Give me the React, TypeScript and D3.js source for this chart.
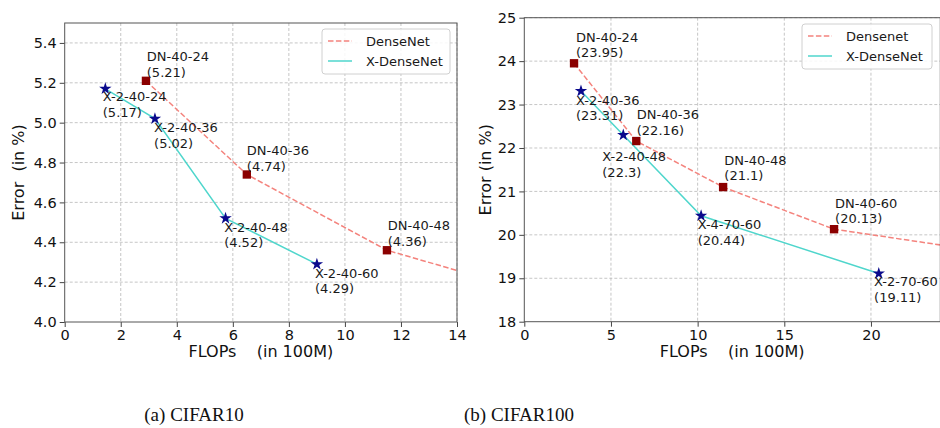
import React, { useEffect, useRef } from "react";
import * as d3 from "d3";

// ---- CIFAR10 ----
const c10DnFlops = [2.9, 6.5, 11.5, 17.9];
const c10DnErr = [5.21, 4.74, 4.36, 4.1];
const c10DnNames = ["DN-40-24", "DN-40-36", "DN-40-48"];
const c10DnLabelAt = [[2.93, 5.23], [6.5, 4.76], [11.53, 4.383]];

const c10XFlops = [1.45, 3.22, 5.74, 9.0];
const c10XErr = [5.17, 5.02, 4.52, 4.29];
const c10XNames = ["X-2-40-24", "X-2-40-36", "X-2-40-48", "X-2-40-60"];
const c10XLabelAt = [[1.36, 5.03], [3.19, 4.875], [5.69, 4.375], [8.93, 4.144]];

const c10XTicks = [0, 2, 4, 6, 8, 10, 12, 14];
const c10YTicks = [4.0, 4.2, 4.4, 4.6, 4.8, 5.0, 5.2, 5.4];

// ---- CIFAR100 ----
const c100DnFlops = [2.87, 6.46, 11.47, 17.87, 26];
const c100DnErr = [23.95, 22.16, 21.1, 20.13, 19.65];
const c100DnNames = ["DN-40-24", "DN-40-36", "DN-40-48", "DN-40-60"];
const c100DnLabelAt = [[2.98, 24.09], [6.49, 22.3], [11.54, 21.26], [17.93, 20.27]];

const c100XFlops = [3.27, 5.71, 10.2, 20.45];
const c100XErr = [23.31, 22.3, 20.44, 19.11];
const c100XNames = ["X-2-40-36", "X-2-40-48", "X-4-70-60", "X-2-70-60"];
const c100XLabelAt = [[2.98, 22.64], [4.5, 21.34], [10.0, 19.77], [20.18, 18.46]];

const c100XTicks = [0, 5, 10, 15, 20];
const c100YTicks = [18, 19, 20, 21, 22, 23, 24, 25];

const FONT = "DejaVu Sans, sans-serif";
const DN_COLOR = "#f4837d";
const X_COLOR = "#4fd6cc";

function drawPanel(svg, cfg) {
  const { left, right, top, bottom, xDomain, yDomain } = cfg;
  const x = d3.scaleLinear().domain(xDomain).range([left, right]);
  const y = d3.scaleLinear().domain(yDomain).range([bottom, top]);
  const g = svg.append("g");

  const clipId = "clip-" + cfg.id;
  g.append("clipPath").attr("id", clipId)
    .append("rect").attr("x", left).attr("y", top)
    .attr("width", right - left).attr("height", bottom - top);

  // grid
  g.append("g").selectAll("line").data(cfg.xTicks.filter((t) => t > xDomain[0])).join("line")
    .attr("x1", (d) => x(d)).attr("x2", (d) => x(d)).attr("y1", top).attr("y2", bottom)
    .attr("stroke", "#b8b8b8").attr("stroke-width", 0.8).attr("stroke-dasharray", "3,2");
  g.append("g").selectAll("line").data(cfg.yTicks.filter((t) => t > yDomain[0])).join("line")
    .attr("x1", left).attr("x2", right).attr("y1", (d) => y(d)).attr("y2", (d) => y(d))
    .attr("stroke", "#b8b8b8").attr("stroke-width", 0.8).attr("stroke-dasharray", "3,2");

  // axes
  const xAxis = g.append("g").attr("transform", `translate(0,${bottom})`)
    .call(d3.axisBottom(x).tickValues(cfg.xTicks).tickFormat(d3.format("d")).tickSize(5).tickPadding(3));
  const yAxis = g.append("g").attr("transform", `translate(${left},0)`)
    .call(d3.axisLeft(y).tickValues(cfg.yTicks).tickFormat(d3.format(cfg.yFormat)).tickSize(5).tickPadding(3));
  [xAxis, yAxis].forEach((a) => {
    a.select(".domain").remove();
    a.selectAll("line").attr("stroke", "#444");
    a.selectAll("text").attr("fill", "#111").style("font-family", FONT).style("font-size", "14.5px");
  });

  const lines = g.append("g").attr("clip-path", `url(#${clipId})`);
  const line = d3.line().x((d) => x(d[0])).y((d) => y(d[1]));
  lines.append("path").datum(d3.zip(cfg.dnFlops, cfg.dnErr)).attr("d", line)
    .attr("fill", "none").attr("stroke", DN_COLOR).attr("stroke-width", 1.5).attr("stroke-dasharray", "5.5,2.4");
  lines.append("path").datum(d3.zip(cfg.xFlops, cfg.xErr)).attr("d", line)
    .attr("fill", "none").attr("stroke", X_COLOR).attr("stroke-width", 1.5);

  // markers
  const names = cfg.dnNames;
  g.append("g").selectAll("path").data(names.map((n, i) => [cfg.dnFlops[i], cfg.dnErr[i]])).join("path")
    .attr("d", d3.symbol(d3.symbolSquare, 70)())
    .attr("transform", (d) => `translate(${x(d[0])},${y(d[1])})`)
    .attr("fill", "#8b0000");
  g.append("g").selectAll("path").data(cfg.xNames.map((n, i) => [cfg.xFlops[i], cfg.xErr[i]])).join("path")
    .attr("d", d3.symbol(d3.symbolStar, 48)())
    .attr("transform", (d) => `translate(${x(d[0])},${y(d[1])})`)
    .attr("fill", "#0a0a8c");

  // annotations
  const ann = [
    ...cfg.dnNames.map((n, i) => ({ name: n, val: cfg.dnErr[i], at: cfg.dnLabelAt[i] })),
    ...cfg.xNames.map((n, i) => ({ name: n, val: cfg.xErr[i], at: cfg.xLabelAt[i] })),
  ];
  const t = g.append("g").selectAll("text").data(ann).join("text")
    .attr("x", (d) => x(d.at[0])).attr("y", (d) => y(d.at[1]))
    .style("font-family", FONT).style("font-size", "13px").attr("fill", "#1a1a1a");
  t.append("tspan").attr("x", (d) => x(d.at[0])).attr("dy", -15.5).text((d) => d.name);
  t.append("tspan").attr("x", (d) => x(d.at[0])).attr("dy", 15.5).text((d) => `(${d.val})`);

  // frame
  g.append("rect").attr("x", left).attr("y", top).attr("width", right - left).attr("height", bottom - top)
    .attr("fill", "none").attr("stroke", "#555").attr("stroke-width", 1);

  // legend
  const lg = g.append("g").attr("transform", `translate(${cfg.legend[0]},${cfg.legend[1]})`);
  lg.append("rect").attr("width", cfg.legend[2]).attr("height", 45).attr("rx", 3)
    .attr("fill", "white").attr("fill-opacity", 0.85).attr("stroke", "#d0d0d0");
  lg.append("line").attr("x1", 6).attr("x2", 30).attr("y1", 12).attr("y2", 12)
    .attr("stroke", DN_COLOR).attr("stroke-width", 1.5).attr("stroke-dasharray", "5.5,2.4");
  lg.append("line").attr("x1", 6).attr("x2", 30).attr("y1", 32).attr("y2", 32)
    .attr("stroke", X_COLOR).attr("stroke-width", 1.5);
  lg.append("text").attr("x", 44).attr("y", 17).text(cfg.dnLegend)
    .style("font-family", FONT).style("font-size", "13px").attr("fill", "#1a1a1a");
  lg.append("text").attr("x", 44).attr("y", 37).text("X-DenseNet")
    .style("font-family", FONT).style("font-size", "13px").attr("fill", "#1a1a1a");

  // axis labels
  g.append("text").attr("x", (left + Math.min(right, 940)) / 2 + (cfg.id === "b" ? 0 : 0)).attr("y", 357)
    .attr("text-anchor", "middle").style("white-space", "pre")
    .style("font-family", FONT).style("font-size", "16px").attr("fill", "#111")
    .text("FLOPs    (in 100M)");
  g.append("text").attr("transform", `translate(${cfg.yLabelX},${(top + bottom) / 2}) rotate(-90)`)
    .attr("text-anchor", "middle").style("white-space", "pre")
    .style("font-family", FONT).style("font-size", "16px").attr("fill", "#111")
    .text(cfg.yLabel);

  // caption
  g.append("text").attr("x", cfg.caption[0]).attr("y", 421).attr("text-anchor", "middle")
    .style("font-family", "Liberation Serif, serif").style("font-size", "19px").attr("fill", "#111")
    .text(cfg.caption[1]);
}

export default function App() {
  const ref = useRef(null);
  useEffect(() => {
    const svg = d3.select(ref.current);
    svg.selectAll("*").remove();
    drawPanel(svg, {
      id: "a", left: 64.7, right: 457, top: 23, bottom: 322,
      xDomain: [0, 14], yDomain: [4.0, 5.5],
      xTicks: c10XTicks, yTicks: c10YTicks, yFormat: ".1f",
      dnFlops: c10DnFlops, dnErr: c10DnErr, dnNames: c10DnNames, dnLabelAt: c10DnLabelAt,
      xFlops: c10XFlops, xErr: c10XErr, xNames: c10XNames, xLabelAt: c10XLabelAt,
      legend: [322, 29, 128], dnLegend: "DenseNet",
      yLabelX: 24, yLabel: "Error  (in %)", caption: [194, "(a) CIFAR10"],
    });
    drawPanel(svg, {
      id: "b", left: 524.3, right: 940.3, top: 17.7, bottom: 321.7,
      xDomain: [0, 24], yDomain: [18, 25],
      xTicks: c100XTicks, yTicks: c100YTicks, yFormat: "d",
      dnFlops: c100DnFlops, dnErr: c100DnErr, dnNames: c100DnNames, dnLabelAt: c100DnLabelAt,
      xFlops: c100XFlops, xErr: c100XErr, xNames: c100XNames, xLabelAt: c100XLabelAt,
      legend: [802, 24, 130], dnLegend: "Densenet",
      yLabelX: 491, yLabel: "Error (in %)", caption: [519, "(b) CIFAR100"],
    });
  }, []);
  return (
    <svg ref={ref} width={940} height={428}
      style={{ position: "absolute", left: 0, top: 0, background: "white" }} />
  );
}
